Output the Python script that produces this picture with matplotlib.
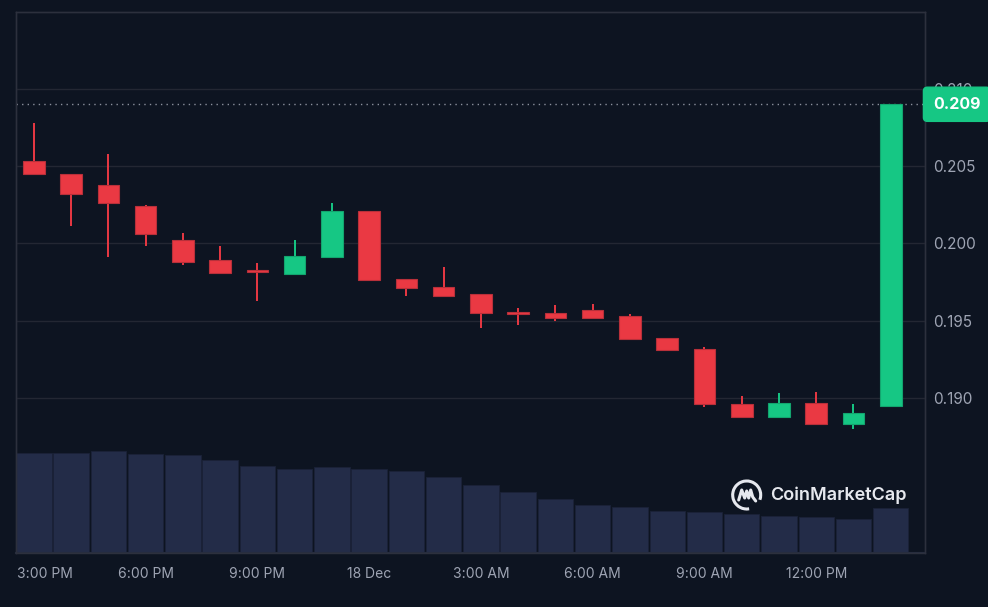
import matplotlib
matplotlib.use('Agg')
import matplotlib.pyplot as plt
import matplotlib.transforms as mtransforms
from matplotlib.patches import Arc
import numpy as np

# ---- data -------------------------------------------------------------
hours = list(range(24))  # hourly candles, index 0 = 3:00 PM (17 Dec)
opens  = [0.2053, 0.2045, 0.2038, 0.2024, 0.2002, 0.1989, 0.19820, 0.1980,
          0.1991, 0.2021, 0.1977, 0.1972, 0.1967, 0.1955, 0.1955, 0.1957,
          0.1953, 0.1939, 0.1932, 0.1896, 0.1888, 0.1897, 0.1883, 0.1895]
highs  = [0.2078, 0.2045, 0.2058, 0.2025, 0.2007, 0.1998, 0.1987, 0.2002,
          0.2026, 0.2021, 0.1977, 0.1985, 0.1967, 0.1958, 0.1960, 0.1961,
          0.1954, 0.1939, 0.1933, 0.1901, 0.1903, 0.1904, 0.1896, 0.2090]
lows   = [0.2045, 0.2011, 0.1991, 0.1998, 0.1986, 0.1980, 0.1963, 0.1980,
          0.1991, 0.1976, 0.1966, 0.1966, 0.1945, 0.1947, 0.1950, 0.1952,
          0.1938, 0.1931, 0.1894, 0.1887, 0.1888, 0.1883, 0.1880, 0.1895]
closes = [0.2045, 0.2032, 0.2026, 0.2006, 0.1988, 0.1981, 0.19815, 0.1992,
          0.2021, 0.1976, 0.1971, 0.1966, 0.1955, 0.1954, 0.1952, 0.1952,
          0.1938, 0.1931, 0.1896, 0.1888, 0.1897, 0.1883, 0.1890, 0.2090]
volumes = [100, 100, 102, 99, 98, 93, 87, 84, 86, 84, 82, 76,
           68, 61, 54, 48, 46, 42, 41, 39, 37, 36, 34, 45]
tick_idx = [0, 3, 6, 9, 12, 15, 18, 21]
tick_labels = ['3:00 PM', '6:00 PM', '9:00 PM', '18 Dec',
               '3:00 AM', '6:00 AM', '9:00 AM', '12:00 PM']
price_ticks = [0.190, 0.195, 0.200, 0.205, 0.210]
price_tick_labels = ['0.190', '0.195', '0.200', '0.205', '0.210']
last_price = 0.209

# ---- style ------------------------------------------------------------
BG = '#0d1421'
UP = '#16c784'
DOWN = '#ea3943'
VOL = '#232c48'
GRID = '#232733'
SPINE = '#2c303d'
TXT = '#9ea4b3'
plt.rcParams['font.family'] = ['Inter', 'DejaVu Sans']

fig = plt.figure(figsize=(9.88, 6.07), dpi=100, facecolor=BG)
rect = [16/988, 54/607, 909/988, 541/607]
ax_v = fig.add_axes(rect)
ax = ax_v.twinx()
ax.set_zorder(ax_v.get_zorder() + 1)
ax.patch.set_visible(False)
ax_v.set_facecolor(BG)

x = np.array(hours)
o = np.array(opens); c = np.array(closes)
h = np.array(highs); l = np.array(lows)
up = c >= o
cols = np.where(up, UP, DOWN)

# volume
ax_v.bar(x, volumes, width=0.95, color=VOL, edgecolor='#1b2238', linewidth=0.6)
ax_v.set_ylim(0, 541)
ax_v.set_yticks([])

# candles
ax.vlines(x, l, h, colors=cols, linewidth=1.4, zorder=3)
body_bottom = np.minimum(o, c)
body_h = np.maximum(np.abs(c - o), 0.00013)
ax.bar(x, body_h, bottom=body_bottom, width=0.58, color=cols,
       edgecolor=np.where(up, '#13a56f', '#b8303a'), linewidth=0.8, zorder=4)

ax.set_xlim(-0.48, 23.92)
ax.set_ylim(0.17997, 0.21497)

# grid & ticks
for p in price_ticks:
    ax.axhline(p, color=GRID, linewidth=1.0, zorder=1)
ax.set_yticks(price_ticks)
ax.set_yticklabels(price_tick_labels)
ax.tick_params(axis='y', length=0, pad=6, labelsize=11, labelcolor=TXT)
ax_v.set_xticks(tick_idx)
ax_v.set_xticklabels(tick_labels)
ax_v.tick_params(axis='x', length=0, pad=10, labelsize=10, labelcolor=TXT)
ax.tick_params(axis='x', length=0)
first = ax_v.get_xticklabels()[0]
first.set_horizontalalignment('left')
first.set_transform(first.get_transform() +
                    mtransforms.ScaledTranslation(-17/100, 0, fig.dpi_scale_trans))

for a in (ax, ax_v):
    for s in a.spines.values():
        s.set_color(SPINE)
        s.set_linewidth(1.0)
ax_v.spines['bottom'].set_color('#262d3f')
ax_v.spines['bottom'].set_linewidth(1.5)

# last price dotted line and label
ax.axhline(last_price, color='#8a8f9c', linewidth=1.0,
           linestyle=(0, (1, 3)), zorder=2)
trans = mtransforms.blended_transform_factory(ax.transAxes, ax.transData)
trans = trans + mtransforms.ScaledTranslation(8/100, 0, fig.dpi_scale_trans)
ax.text(1.0, last_price, f'{last_price:.3f}', transform=trans,
        ha='left', va='center', color='white', fontsize=11.5,
        fontweight='bold', clip_on=False, zorder=10,
        bbox=dict(boxstyle='round,pad=0.6,rounding_size=0.25',
                  facecolor=UP, edgecolor=UP))

# CoinMarketCap watermark
fig.text(770/988, 1 - 495/607, 'CoinMarketCap', color='#e6e8ee',
         fontsize=13, fontweight='semibold', ha='left', va='center')
cx, cy, r = 746.7/988, 1 - 495/607, 14
ax_logo = fig.add_axes([cx - 17/988, cy - 17/607, 34/988, 34/607])
ax_logo.set_xlim(-17, 17); ax_logo.set_ylim(-17, 17)
ax_logo.axis('off')
ax_logo.add_patch(Arc((0, 0), 2*r, 2*r, theta1=-20, theta2=280,
                      color='#e6e8ee', linewidth=2.2))
ax_logo.plot([-8, -5, -2, 0, 2, 4, 6, 9], [-5, 5, -3, 4, -3, 5, -2, -6],
             color='#e6e8ee', linewidth=2.2, solid_joinstyle='round',
             solid_capstyle='round')

fig.savefig('out.png', dpi=100, facecolor=BG)
